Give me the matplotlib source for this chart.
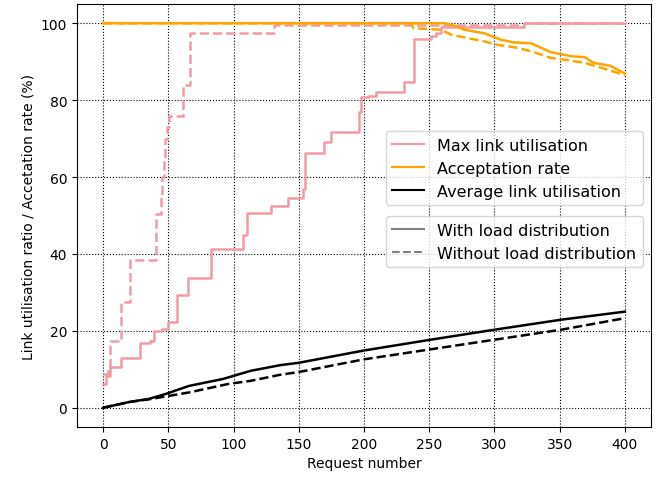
import numpy as np
import matplotlib
matplotlib.use('Agg')
import matplotlib.pyplot as plt
from matplotlib.lines import Line2D

# max link utilisation (step curves)
max_with_x = [0, 2, 5, 9, 14, 28, 36, 39, 45, 50, 57, 65, 83, 107, 110, 129, 142, 153, 155,
              169, 175, 196, 198, 203, 209, 231, 238, 251, 255, 259, 323, 400]
max_with_y = [6.2, 8.3, 10.5, 10.7, 13.0, 16.9, 17.3, 19.9, 20.4, 22.2, 29.3, 33.7, 41.4, 45.0,
              50.6, 52.4, 54.6, 56.8, 66.2, 69.2, 71.7, 76.9, 80.7, 81.2, 82.0, 84.8, 95.9, 96.6,
              97.4, 99.0, 100, 100]
max_without_x = [0, 4, 5, 13.5, 20.5, 40.6, 44.4, 45.5, 46.5, 47.5, 49, 50.8, 61, 67, 131, 323, 400]
max_without_y = [8.7, 10, 17.3, 27.5, 38.3, 50.5, 55, 60, 65, 70, 73, 76, 84, 97.4, 99.6, 100, 100]

# acceptation rate
acc_with_x = [0, 262, 270, 277, 292, 305, 315, 328, 343, 359, 369, 376, 389, 400]
acc_with_y = [100, 100, 99.3, 98.3, 97.4, 95.7, 95.0, 94.8, 92.5, 91.4, 91.2, 89.7, 88.9, 86.9]
acc_without_x = [0, 236, 238, 259, 267, 280, 292, 302, 318, 330, 343, 356, 369, 382, 400]
acc_without_y = [100, 100, 98.7, 98.3, 97.0, 96.1, 95.3, 94.4, 93.6, 92.5, 91.0, 90.4, 89.7, 88.4, 86.5]

# average link utilisation
avg_with_x = [0, 20, 35, 48, 66, 92, 113, 136, 150, 200, 251, 300, 351, 400]
avg_with_y = [0, 1.5, 2.3, 3.6, 5.7, 7.5, 9.6, 11.1, 11.7, 14.9, 17.7, 20.3, 22.9, 25.0]
avg_without_x = [0, 20, 35, 66, 96, 113, 136, 150, 200, 251, 300, 351, 400]
avg_without_y = [0, 1.5, 2.2, 4.0, 6.2, 7.0, 8.6, 9.3, 12.6, 15.2, 17.7, 20.3, 23.3]

pink = '#f29ba4'
orange = 'orange'
lw = 1.8

fig = plt.figure(figsize=(6.67, 4.85), dpi=100)
ax = fig.add_axes([0.1154, 0.1175, 0.8606, 0.8722])

ax.plot(max_with_x, max_with_y, color=pink, drawstyle='steps-post', lw=lw)
ax.plot(max_without_x, max_without_y, color=pink, drawstyle='steps-post', ls='--', lw=lw)
ax.plot(acc_with_x, acc_with_y, color=orange, lw=lw)
ax.plot(acc_without_x, acc_without_y, color=orange, ls='--', lw=lw)
ax.plot(avg_with_x, avg_with_y, color='black', lw=lw)
ax.plot(avg_without_x, avg_without_y, color='black', ls='--', lw=lw)

ax.set_xticks(np.arange(0, 401, 50))
ax.set_yticks(np.arange(0, 101, 20))
ax.grid(True, color='black', ls=':', lw=0.8)
ax.set_xlabel('Request number')
ax.set_ylabel('Link utilisation ratio / Accetation rate (%)')

h1 = [Line2D([], [], color=pink), Line2D([], [], color=orange), Line2D([], [], color='black')]
leg1 = ax.legend(h1, ['Max link utilisation', 'Acceptation rate', 'Average link utilisation'],
                 loc='upper left', bbox_to_anchor=(0.538, 0.699, 0.448, 0.0), mode='expand',
                 borderaxespad=0, fontsize=11.5)
ax.add_artist(leg1)
h2 = [Line2D([], [], color='gray'), Line2D([], [], color='gray', ls='--')]
ax.legend(h2, ['With load distribution', 'Without load distribution'],
          loc='upper left', bbox_to_anchor=(0.538, 0.498, 0.448, 0.0), mode='expand',
          borderaxespad=0, fontsize=11.5)

fig.savefig('out.png')
